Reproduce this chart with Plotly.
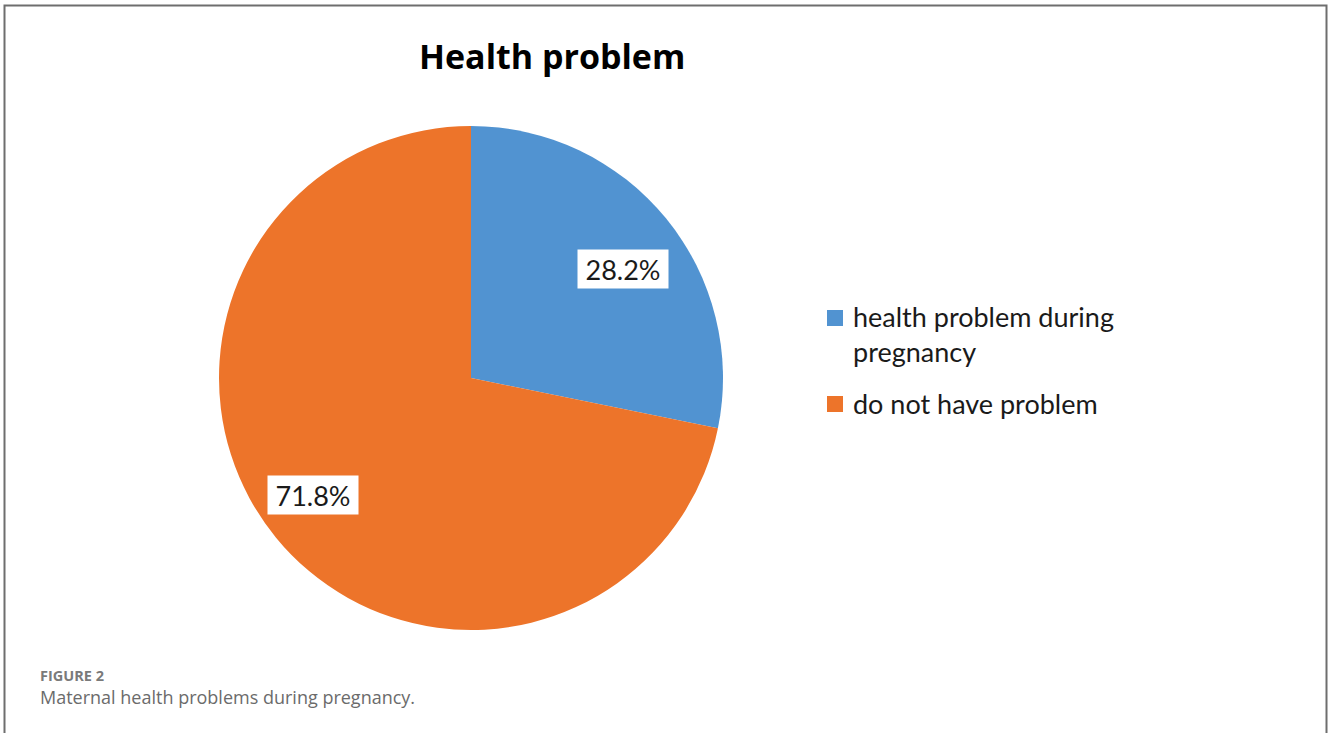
import math
import plotly.graph_objects as go

# Share of mothers reporting a health problem during pregnancy
categories = ["health problem during<br>pregnancy", "do not have problem"]
values = [28.2, 71.8]
colors = ["#5193D1", "#ED742A"]

title_text = "Health problem"
figure_label = "FIGURE 2"
caption_text = "Maternal health problems during pregnancy."

W, H = 1328, 733
cx, cy, R = 471, 378, 252  # pie centre and radius in pixels


def px(x):
    return x / W


def py(y):
    return 1 - y / H


fig = go.Figure()
fig.add_trace(go.Pie(
    labels=[c.replace("<br>", " ") for c in categories],
    values=values,
    marker=dict(colors=colors, line=dict(width=0)),
    sort=False,
    direction="clockwise",
    rotation=0,
    textinfo="none",
    hoverinfo="label+percent",
    showlegend=False,
    domain=dict(x=[px(cx - R), px(cx + R)], y=[py(cy + R), py(cy - R)]),
))

# Percentage labels in white boxes near each slice's mid-angle
total = sum(values)
start = 0.0
label_r = [0.742, 0.78]        # radial position as a fraction of the radius
label_shift = [3.6, 2.7]       # small angular nudge in degrees
for v, rf, sh in zip(values, label_r, label_shift):
    mid = (start + v / 2) / total * 2 * math.pi + math.radians(sh)
    start += v
    lx = cx + rf * R * math.sin(mid)
    ly = cy - rf * R * math.cos(mid)
    fig.add_annotation(
        x=px(lx), y=py(ly), xref="paper", yref="paper",
        xanchor="center", yanchor="middle",
        text=f"{v:.1f}%", showarrow=False,
        font=dict(family="Lato, 'Open Sans', sans-serif", size=27, color="#1a1a1a"),
        bgcolor="white", borderpad=0, width=90, height=38,
    )

# Legend: coloured squares with category names
legend_tops = [310, 396]
for name, col, top in zip(categories, colors, legend_tops):
    fig.add_shape(type="rect", xref="paper", yref="paper",
                  x0=px(827), x1=px(843), y0=py(top + 16), y1=py(top),
                  fillcolor=col, line=dict(width=0))
    fig.add_annotation(
        x=px(851), y=py(top - 11.5), xref="paper", yref="paper",
        xanchor="left", yanchor="top", align="left",
        text=name, showarrow=False,
        font=dict(family="Lato, 'Open Sans', sans-serif", size=27, color="#1a1a1a"),
    )

fig.add_annotation(
    x=px(552), y=py(56), xref="paper", yref="paper",
    xanchor="center", yanchor="middle",
    text=f"<b>{title_text}</b>", showarrow=False,
    font=dict(family="'Open Sans', Lato, sans-serif", size=34, color="#000000"),
)

fig.add_annotation(
    x=px(38), y=py(675), xref="paper", yref="paper",
    xanchor="left", yanchor="middle",
    text=f"<b>{figure_label}</b>", showarrow=False,
    font=dict(family="'Open Sans', sans-serif", size=14.5, color="#7a7a7a"),
)
fig.add_annotation(
    x=px(38), y=py(697), xref="paper", yref="paper",
    xanchor="left", yanchor="middle",
    text=caption_text, showarrow=False,
    font=dict(family="'Open Sans', sans-serif", size=18, color="#6b6b6b"),
)

# Frame around the figure (open at the bottom edge of the page)
fig.add_shape(type="rect", xref="paper", yref="paper",
              x0=px(4.5), x1=px(1326.5), y0=-0.1, y1=py(5.5),
              line=dict(color="#6e6e6e", width=2), fillcolor="rgba(0,0,0,0)")

fig.update_layout(
    width=W, height=H,
    margin=dict(l=0, r=0, t=0, b=0),
    paper_bgcolor="white",
    plot_bgcolor="white",
    showlegend=False,
)

fig.write_html("out.html")
